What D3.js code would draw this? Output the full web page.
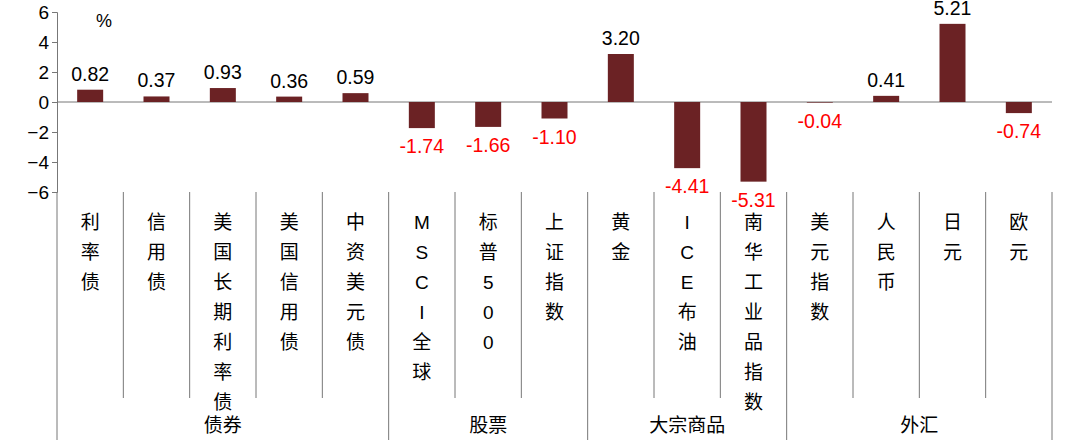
<!DOCTYPE html>
<html><head><meta charset="utf-8">
<script src="https://cdn.jsdelivr.net/npm/d3@7"></script>
<style>body{margin:0;background:#fff}</style></head>
<body><svg id="c" width="1080" height="447"></svg>
<script>
const categories=["利率债","信用债","美国长期利率债","美国信用债","中资美元债","MSCI全球","标普500","上证指数","黄金","ICE布油","南华工业品指数","美元指数","人民币","日元","欧元"];
const values=[0.82,0.37,0.93,0.36,0.59,-1.74,-1.66,-1.10,3.20,-4.41,-5.31,-0.04,0.41,5.21,-0.74];
const groups=["债券","股票","大宗商品","外汇"];
const groupSizes=[5,3,3,4];
const yTicks=[6,4,2,0,-2,-4,-6];

const svg=d3.select("#c");
const font="Liberation Sans, Noto Sans CJK SC, sans-serif";
const L=57,R=1052;
const x=d3.scaleBand().domain(categories).range([L,R]);
const y=d3.scaleLinear().domain([-6,6]).range([192,12]);
const g=svg.append("g").style("font-family",font);

g.append("g").attr("transform",`translate(${L},0)`)
 .call(d3.axisLeft(y).tickValues(yTicks).tickSize(5).tickFormat(d3.format("d")))
 .call(a=>{a.selectAll("text").attr("font-size",19).attr("fill","#000").attr("font-family",font);a.selectAll("line,path").attr("stroke","#777");});
g.append("line").attr("x1",L).attr("x2",R).attr("y1",y(0)).attr("y2",y(0)).attr("stroke","#777");
g.append("text").attr("x",96).attr("y",27).attr("font-size",18).text("%");

g.selectAll(".bar").data(values).join("rect")
 .attr("x",(d,i)=>x(categories[i])+x.bandwidth()/2-13).attr("width",26)
 .attr("y",d=>y(Math.max(0,d))).attr("height",d=>Math.abs(y(d)-y(0)))
 .attr("fill","#6b2224");
g.selectAll(".lbl").data(values).join("text")
 .attr("x",(d,i)=>x(categories[i])+x.bandwidth()/2)
 .attr("y",d=>d>=0?y(d)-9:y(d)+25)
 .attr("text-anchor","middle").attr("font-size",19.5)
 .attr("fill",d=>d>=0?"#000":"#f00").text(d=>d.toFixed(2));

const lineCol="#777";
g.append("line").attr("x1",L).attr("x2",L).attr("y1",192).attr("y2",440).attr("stroke",lineCol);
categories.forEach((c,i)=>{
  const xe=x(c)+x.bandwidth();
  g.append("line").attr("x1",xe).attr("x2",xe).attr("y1",192).attr("y2",398).attr("stroke",lineCol);
  Array.from(c).forEach((ch,j)=>g.append("text").attr("x",x(c)+x.bandwidth()/2).attr("y",229+j*30)
    .attr("text-anchor","middle").attr("font-size",19).text(ch));
});
let idx=0;
groups.forEach((gr,k)=>{
  const x0=x(categories[idx]);idx+=groupSizes[k];
  const x1=x(categories[idx-1])+x.bandwidth();
  g.append("line").attr("x1",x1).attr("x2",x1).attr("y1",398).attr("y2",440).attr("stroke",lineCol);
  g.append("text").attr("x",(x0+x1)/2).attr("y",432).attr("text-anchor","middle").attr("font-size",19).text(gr);
});
</script></body></html>
